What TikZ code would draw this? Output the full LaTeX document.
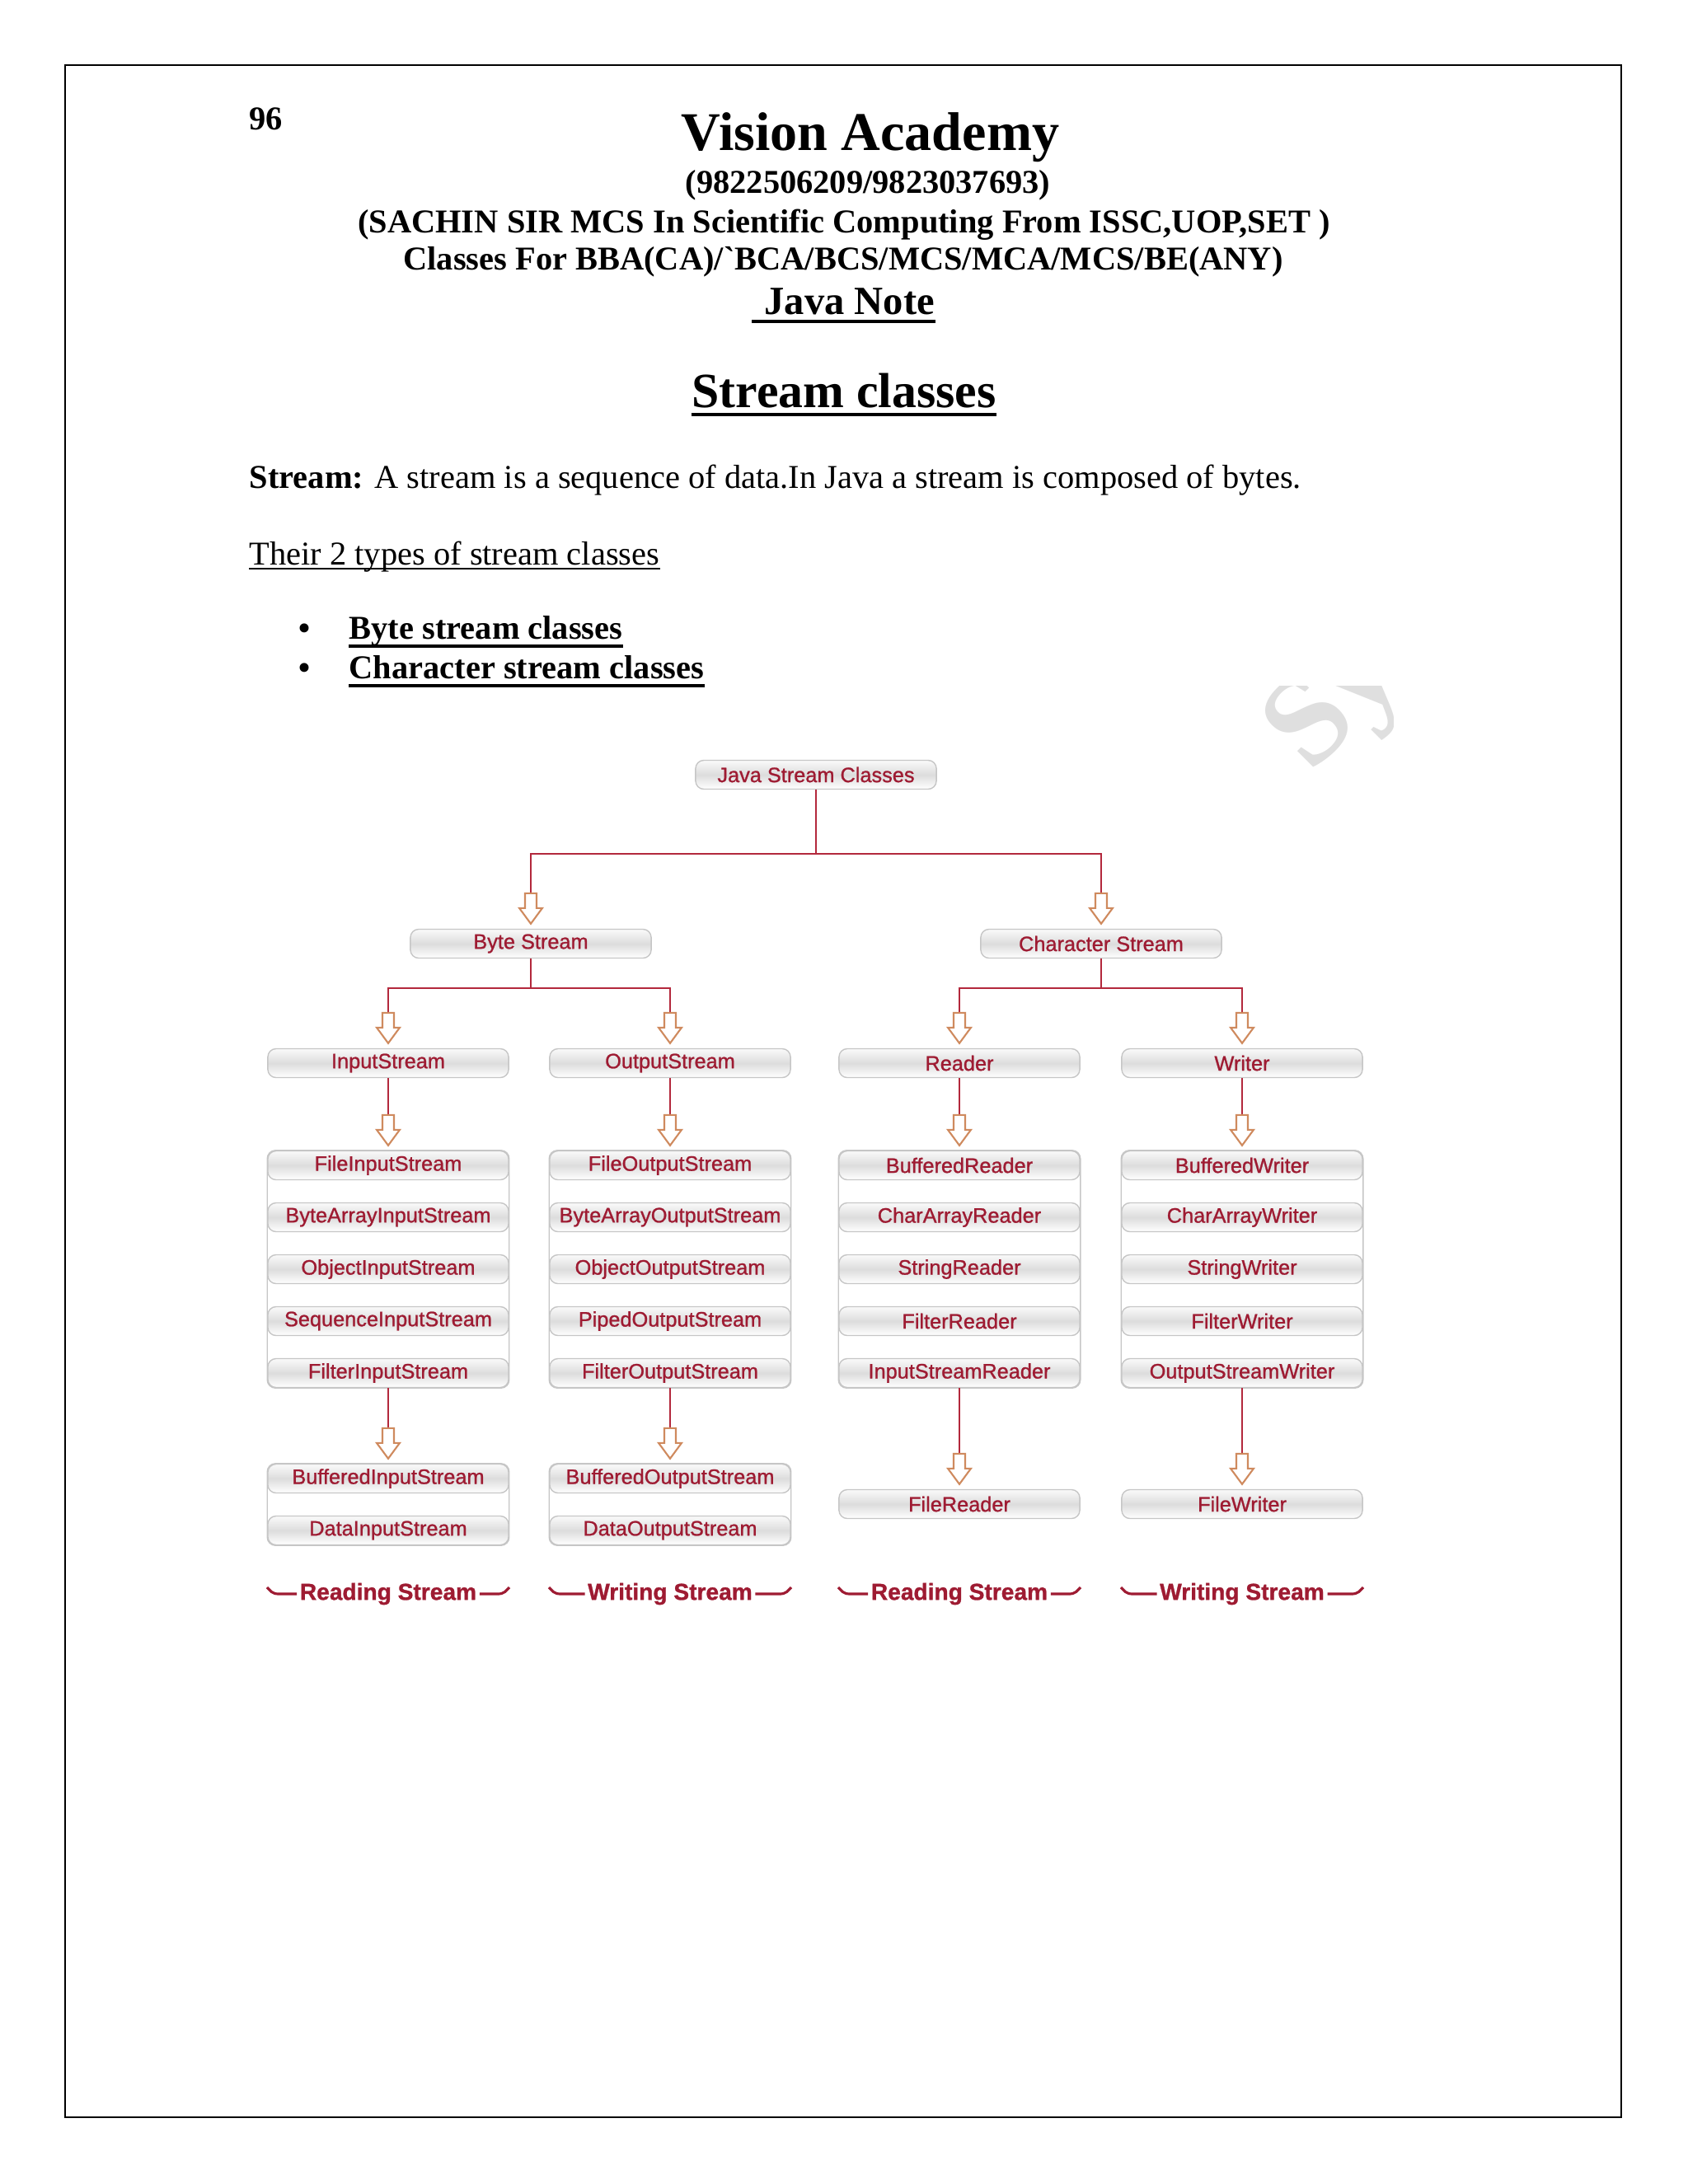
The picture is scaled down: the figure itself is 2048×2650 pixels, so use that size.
\documentclass[tikz,border=0pt]{standalone}
\usepackage{fontspec}
\setmainfont{Liberation Serif}
\newfontfamily\boxfont[FakeBold=1]{Liberation Sans}
\usetikzlibrary{calc,backgrounds}
\definecolor{javared}{HTML}{9E1B32}
\definecolor{linkred}{HTML}{B3283C}
\definecolor{arrowtan}{HTML}{CF8A5E}
\begin{document}
\begin{tikzpicture}[x=0.01cm,y=-0.01cm,
    pill/.style={draw=gray!45,line width=0.4pt,rounded corners=0.1cm,top color=gray!4,bottom color=white,
      middle color=gray!27,minimum width=2.92cm,minimum height=0.35cm,inner sep=0pt,text=javared,
      font={\boxfont\fontsize{7.2}{8}\selectfont}},
    frame/.style={draw=gray!45,line width=0.4pt,rounded corners=0.1cm},
    link/.style={draw=linkred,line width=0.7pt},
    flow/.style={text=javared,font={\boxfont\bfseries\fontsize{8}{9}\selectfont},inner xsep=0.03cm,inner ysep=0pt},
    brace/.style={draw=javared,line width=0.9pt},
    hollow/.pic={\draw[arrowtan,fill=white,line width=0.6pt] (-7,-43) -- (-7,-25) -- (-14,-25) -- (0,-6)
      -- (14,-25) -- (7,-25) -- (7,-43) -- cycle;}]
  \useasboundingbox (0,0) rectangle (2048,2650);
  \draw[line width=0.6pt] (79,79) rectangle (1967,2569);
  \node[anchor=base west,inner sep=0pt,font=\bfseries\fontsize{11.5}{13}\selectfont] (pageno) at (302,157) {96};
  \node[anchor=base,font=\bfseries\fontsize{18.8}{22}\selectfont] (academy) at (1056,182) {Vision Academy};
  \node[anchor=base,font=\bfseries\fontsize{11.5}{13}\selectfont] (phone) at (1053,234) {(9822506209/9823037693)};
  \node[anchor=base,font=\bfseries\fontsize{11.5}{13}\selectfont] (teacher) at (1024,282)
    {(SACHIN SIR MCS In Scientific Computing From ISSC,UOP,SET )};
  \node[anchor=base,font=\bfseries\fontsize{11.5}{13}\selectfont] (courses) at (1023,327)
    {Classes For BBA(CA)/\textasciigrave BCA/BCS/MCS/MCA/MCS/BE(ANY)};
  \node[anchor=base west,inner sep=0pt,font=\bfseries\fontsize{13.8}{16}\selectfont] (javanote) at (927,381) {Java Note};
  \draw[line width=0.9pt] ($(javanote.base west)+(-15,9)$) -- ($(javanote.base east)+(0,9)$);
  \node[anchor=base,inner sep=0pt,font=\bfseries\fontsize{17}{20}\selectfont] (topic) at (1024,494) {Stream classes};
  \draw[line width=1.1pt] ($(topic.base west)+(0,9)$) -- ($(topic.base east)+(0,9)$);
  \node[anchor=base west,inner sep=0pt,font=\fontsize{11.5}{13}\selectfont] (defn) at (302,592)
    {\textbf{Stream:} A stream is a sequence of data.In Java a stream is composed of bytes.};
  \node[anchor=base west,inner sep=0pt,font=\fontsize{11.5}{13}\selectfont] (types) at (302,685) {Their 2 types of stream classes};
  \draw[line width=0.5pt] ($(types.base west)+(0,5)$) -- ($(types.base east)+(0,5)$);
  \foreach \n/\t/\yy in {bytecls/Byte stream classes/775,charcls/Character stream classes/823}{
    \node[inner sep=0pt,font=\fontsize{13}{13}\selectfont] (dot\n) at (369,\yy-8) {\textbullet};
    \node[anchor=base west,inner sep=0pt,font=\bfseries\fontsize{11.5}{13}\selectfont] (\n) at (423,\yy) {\t};
    \draw[line width=0.9pt] ($(\n.base west)+(0,9)$) -- ($(\n.base east)+(0,9)$);
  }
  \begin{scope}
    \clip (1500,832) rectangle (1690,935);
    \node[rotate=45,anchor=base west,inner sep=0pt,text=gray!25,font=\bfseries\fontsize{44}{44}\selectfont] (mark) at (1590,940) {Sy};
  \end{scope}
  \node[pill] (java) at (990,940) {Java Stream Classes};
  \node[pill] (byte) at (644,1145) {Byte Stream};
  \node[pill] (char) at (1336,1145) {Character Stream};
  \foreach \n/\t/\x in {instr/InputStream/471,outstr/OutputStream/813,reader/Reader/1164,writer/Writer/1507}
    \node[pill] (\n) at (\x,1290) {\t};
  \foreach \t [count=\i] in {FileInputStream,ByteArrayInputStream,ObjectInputStream,SequenceInputStream,FilterInputStream}
    \node[pill] (in\i) at (471,1351+63*\i) {\t};
  \foreach \t [count=\i] in {FileOutputStream,ByteArrayOutputStream,ObjectOutputStream,PipedOutputStream,FilterOutputStream}
    \node[pill] (out\i) at (813,1351+63*\i) {\t};
  \foreach \t [count=\i] in {BufferedReader,CharArrayReader,StringReader,FilterReader,InputStreamReader}
    \node[pill] (rd\i) at (1164,1351+63*\i) {\t};
  \foreach \t [count=\i] in {BufferedWriter,CharArrayWriter,StringWriter,FilterWriter,OutputStreamWriter}
    \node[pill] (wr\i) at (1507,1351+63*\i) {\t};
  \node[pill] (bin) at (471,1794) {BufferedInputStream};
  \node[pill] (din) at (471,1857) {DataInputStream};
  \node[pill] (bout) at (813,1794) {BufferedOutputStream};
  \node[pill] (dout) at (813,1857) {DataOutputStream};
  \node[pill] (fr) at (1164,1825) {FileReader};
  \node[pill] (fw) at (1507,1825) {FileWriter};
  \begin{scope}[on background layer]
    \draw[frame] (in1.north west) rectangle (in5.south east) (out1.north west) rectangle (out5.south east)
      (rd1.north west) rectangle (rd5.south east) (wr1.north west) rectangle (wr5.south east)
      (bin.north west) rectangle (din.south east) (bout.north west) rectangle (dout.south east);
  \end{scope}
  \draw[link] (java.south) -- ++(0,78) -| ([yshift=0.43cm]byte.north);
  \draw[link] (java.south) -- ++(0,78) -| ([yshift=0.43cm]char.north);
  \draw[link] (byte.south) -- ++(0,36) -| ([yshift=0.43cm]instr.north);
  \draw[link] (byte.south) -- ++(0,36) -| ([yshift=0.43cm]outstr.north);
  \draw[link] (char.south) -- ++(0,36) -| ([yshift=0.43cm]reader.north);
  \draw[link] (char.south) -- ++(0,36) -| ([yshift=0.43cm]writer.north);
  \draw[link] (instr.south) -- ([yshift=0.43cm]in1.north);
  \draw[link] (outstr.south) -- ([yshift=0.43cm]out1.north);
  \draw[link] (reader.south) -- ([yshift=0.43cm]rd1.north);
  \draw[link] (writer.south) -- ([yshift=0.43cm]wr1.north);
  \draw[link] (in5.south) -- ([yshift=0.43cm]bin.north);
  \draw[link] (out5.south) -- ([yshift=0.43cm]bout.north);
  \draw[link] (rd5.south) -- ([yshift=0.43cm]fr.north);
  \draw[link] (wr5.south) -- ([yshift=0.43cm]fw.north);
  \foreach \n in {byte,char,instr,outstr,reader,writer,in1,out1,rd1,wr1,bin,bout,fr,fw}
    \pic at (\n.north) {hollow};
  \foreach \n/\t/\x in {rdbyte/Reading Stream/471,wrbyte/Writing Stream/813,rdchar/Reading Stream/1164,wrchar/Writing Stream/1507}{
    \node[flow] (\n) at (\x,1934) {\t};
    \draw[brace] (\n.west) -- (\x-133,1934) .. controls (\x-141,1934) and (\x-143,1930) .. (\x-147,1926);
    \draw[brace] (\n.east) -- (\x+133,1934) .. controls (\x+141,1934) and (\x+143,1930) .. (\x+147,1926);
  }
\end{tikzpicture}
\end{document}
